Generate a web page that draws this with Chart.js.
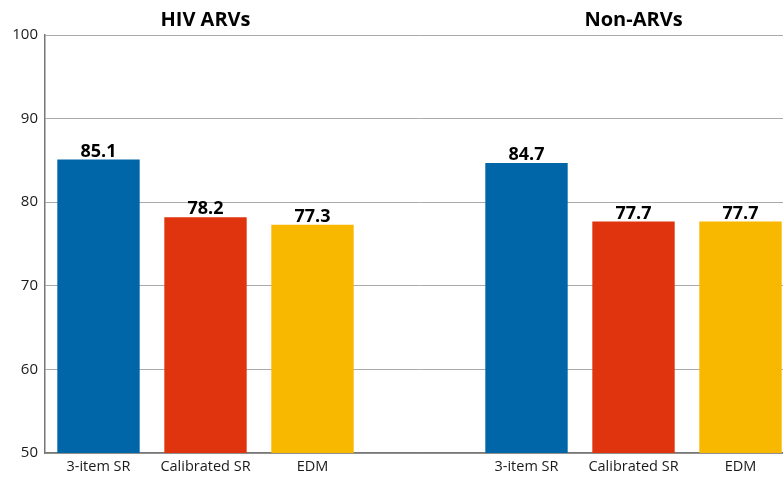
<!DOCTYPE html>
<html>
<head>
<meta charset="utf-8">
<script src="https://cdn.jsdelivr.net/npm/chart.js@4/dist/chart.umd.min.js"></script>
<style>
html,body{margin:0;padding:0;background:#fff;overflow:hidden;}
#wrap{width:795px;height:483px;position:relative;}
</style>
</head>
<body>
<div id="wrap"><canvas id="c"></canvas></div>
<script>
const categories = ['3-item SR','Calibrated SR','EDM','','3-item SR','Calibrated SR','EDM'];
const values = [85.1, 78.2, 77.3, null, 84.7, 77.7, 77.7];
const barColors = ['#0066A8','#E0340F','#F9B800','#ffffff','#0066A8','#E0340F','#F9B800'];
const groupTitles = [{text:'HIV ARVs', index:1},{text:'Non-ARVs', index:5}];
const yTicks = [50,60,70,80,90,100];

const FONT = "'Open Sans', 'Noto Sans', sans-serif";

const labelPlugin = {
  id:'labelPlugin',
  afterDatasetsDraw(chart){
    const ctx = chart.ctx;
    const meta = chart.getDatasetMeta(0);
    ctx.save();
    ctx.fillStyle = '#000';
    ctx.font = "bold 18px " + FONT;
    ctx.textAlign = 'center';
    ctx.textBaseline = 'bottom';
    meta.data.forEach((bar,i)=>{
      if(values[i]==null) return;
      ctx.fillText(values[i].toFixed(1), bar.x, bar.y + 1);
    });
    const xs = chart.scales.x;
    ctx.font = "bold 20px " + FONT;
    ctx.textBaseline = 'middle';
    groupTitles.forEach(g=>{
      ctx.fillText(g.text, xs.getPixelForValue(g.index), 20);
    });
    ctx.restore();
  }
};

new Chart(document.getElementById('c'), {
  type:'bar',
  data:{
    labels: categories,
    datasets:[{
      data: values,
      backgroundColor: barColors,
      borderWidth:0,
      barPercentage:0.77,
      categoryPercentage:1.0
    }]
  },
  options:{
    responsive:true,
    maintainAspectRatio:false,
    animation:false,
    layout:{padding:{top:35,left:0,right:1,bottom:0}},
    plugins:{legend:{display:false},tooltip:{enabled:false},title:{display:false}},
    scales:{
      x:{
        afterFit(s){ s.height = 30; },
        grid:{display:false, drawTicks:false},
        border:{display:true,color:'#777',width:1.5},
        ticks:{color:'#1a1a1a',font:{family:FONT,size:14.5},padding:5,maxRotation:0,autoSkip:false}
      },
      y:{
        min:50,max:100,
        afterBuildTicks(s){ s.ticks = yTicks.map(v=>({value:v})); },
        afterFit(s){ s.width = 45; },
        grid:{color:'#aaaaaa',lineWidth:1,drawTicks:false},
        border:{display:true,color:'#777',width:1.5},
        ticks:{color:'#1a1a1a',font:{family:FONT,size:15},padding:7}
      }
    }
  },
  plugins:[labelPlugin]
});
</script>
</body>
</html>
